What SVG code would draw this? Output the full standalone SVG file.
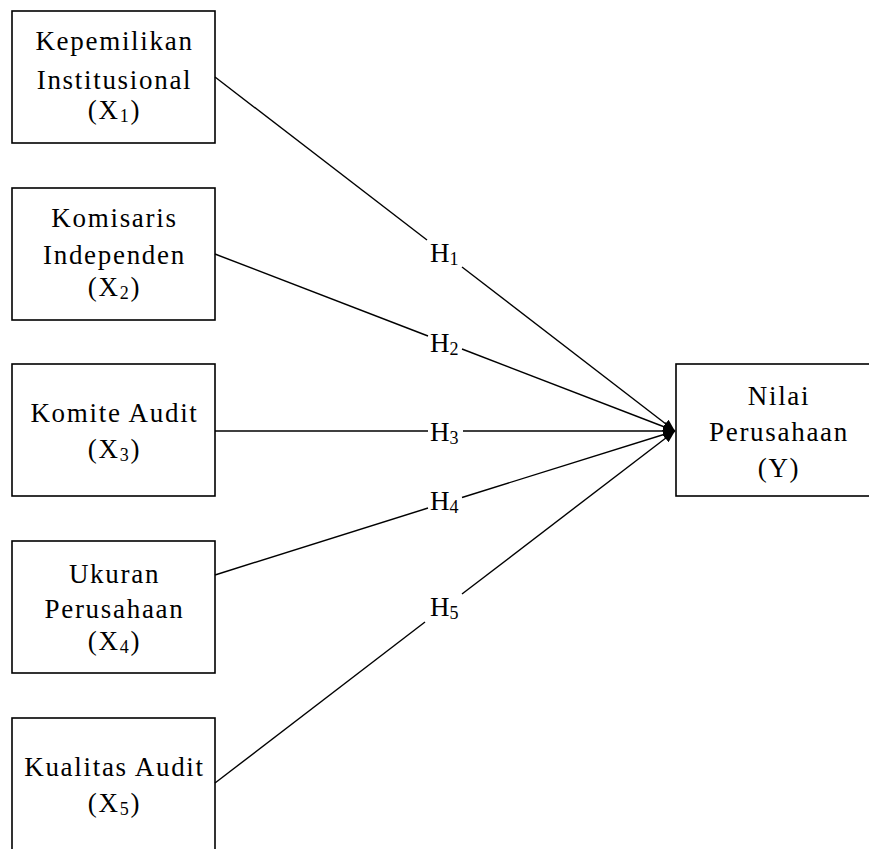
<svg xmlns="http://www.w3.org/2000/svg" width="869" height="849" viewBox="0 0 869 849">
<style>
  .box { fill: #fff; stroke: #000; stroke-width: 1.6; }
  .t { font-family: "Liberation Serif", "Times New Roman", serif; font-size: 27px; letter-spacing: 1.7px; fill: #000; text-anchor: middle; }
  .h { font-family: "Liberation Serif", "Times New Roman", serif; font-size: 27px; fill: #000; }
  .sub { font-size: 18px; }
  .ln { stroke: #000; stroke-width: 1.4; fill: none; }
</style>
<defs>
  <marker id="arr" viewBox="0 0 12 10" refX="12" refY="5" markerWidth="12" markerHeight="10" markerUnits="userSpaceOnUse" orient="auto">
    <path d="M0,0 L12,5 L0,10 Z" fill="#000"/>
  </marker>
</defs>
<rect width="869" height="849" fill="#fff"/>

<g id="x1">
  <rect class="box" x="12" y="11" width="203" height="132"/>
  <text class="t" x="114.5" y="50">Kepemilikan</text>
  <text class="t" x="114.5" y="89">Institusional</text>
  <text class="t" x="114.5" y="119">(X<tspan class="sub" dy="3">1</tspan><tspan dy="-3">)</tspan></text>
</g>
<g id="x2">
  <rect class="box" x="12" y="188" width="203" height="132"/>
  <text class="t" x="114.5" y="227">Komisaris</text>
  <text class="t" x="114.5" y="264">Independen</text>
  <text class="t" x="114.5" y="296">(X<tspan class="sub" dy="3">2</tspan><tspan dy="-3">)</tspan></text>
</g>
<g id="x3">
  <rect class="box" x="12" y="364" width="203" height="132"/>
  <text class="t" x="114.5" y="422">Komite Audit</text>
  <text class="t" x="114.5" y="458">(X<tspan class="sub" dy="3">3</tspan><tspan dy="-3">)</tspan></text>
</g>
<g id="x4">
  <rect class="box" x="12" y="541" width="203" height="132"/>
  <text class="t" x="114.5" y="583">Ukuran</text>
  <text class="t" x="114.5" y="618">Perusahaan</text>
  <text class="t" x="114.5" y="650">(X<tspan class="sub" dy="3">4</tspan><tspan dy="-3">)</tspan></text>
</g>
<g id="x5">
  <rect class="box" x="12" y="718" width="203" height="140"/>
  <text class="t" x="114.5" y="776">Kualitas Audit</text>
  <text class="t" x="114.5" y="812">(X<tspan class="sub" dy="3">5</tspan><tspan dy="-3">)</tspan></text>
</g>
<g id="y">
  <rect class="box" x="676" y="364" width="210" height="132"/>
  <text class="t" x="779" y="405">Nilai</text>
  <text class="t" x="779" y="441">Perusahaan</text>
  <text class="t" x="779" y="477">(Y)</text>
</g>

<g id="connectors">
  <line class="ln" x1="215" y1="77" x2="427" y2="240"/>
  <line class="ln" x1="462" y1="267" x2="675" y2="431" marker-end="url(#arr)"/>
  <line class="ln" x1="215" y1="254" x2="428" y2="336"/>
  <line class="ln" x1="462" y1="349" x2="675" y2="431" marker-end="url(#arr)"/>
  <line class="ln" x1="215" y1="431" x2="428" y2="431"/>
  <line class="ln" x1="463" y1="431" x2="675" y2="431" marker-end="url(#arr)"/>
  <line class="ln" x1="215" y1="575" x2="428" y2="508"/>
  <line class="ln" x1="462" y1="497.5" x2="675" y2="431" marker-end="url(#arr)"/>
  <line class="ln" x1="215" y1="783" x2="425" y2="622"/>
  <line class="ln" x1="462" y1="594" x2="675" y2="431" marker-end="url(#arr)"/>
  <text class="h" x="430" y="262">H<tspan class="sub" dy="3">1</tspan></text>
  <text class="h" x="430" y="352">H<tspan class="sub" dy="3">2</tspan></text>
  <text class="h" x="430" y="441">H<tspan class="sub" dy="3">3</tspan></text>
  <text class="h" x="430" y="510">H<tspan class="sub" dy="3">4</tspan></text>
  <text class="h" x="430" y="616">H<tspan class="sub" dy="3">5</tspan></text>
</g>
</svg>
